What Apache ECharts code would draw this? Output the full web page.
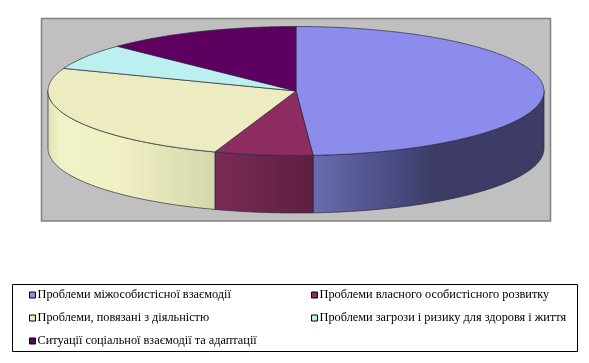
<!DOCTYPE html>
<html><head><meta charset="utf-8">
<style>html,body{margin:0;padding:0;background:#fff}#c{width:589px;height:363px}</style>
<script src="https://cdn.jsdelivr.net/npm/echarts@6/dist/echarts.min.js"></script>
</head><body><div id="c"></div>
<script>
const categories = [
  'Проблеми міжособистісної взаємодії',
  'Проблеми власного особистісного розвитку',
  'Проблеми, повязані з діяльністю',
  'Проблеми загрози і ризику для здоровя і життя',
  'Ситуації соціальної взаємодії та адаптації'
];
const values = [48.9, 6.4, 25.4, 6.5, 12.8];
const topColors = ['#8c8cec', '#8c2c60', '#ececc0', '#bcefef', '#5e0060'];
const sideStops = [
  [[0, '#6a6cb0'], [0.5, '#45467a'], [0.65, '#3c3c66'], [1, '#3c3c66']],
  [[0, '#7a2a56'], [1, '#5e2040']],
  [[0, '#e0e0b4'], [0.08, '#f2f2c8'], [0.45, '#f0f0c4'], [1, '#d6d6ac']],
  [[0, '#bcefef'], [1, '#bcefef']],
  [[0, '#5e0060'], [1, '#5e0060']]
];
const sideSpans = [[312, 500], [215, 312], [47, 215], [0, 1], [0, 1]];

const cx = 296, cy = 91, rx = 248, ry = 64.5, depth = 57.5;
const total = values.reduce((a, b) => a + b, 0);
function pt(deg, dy) {
  const t = deg * Math.PI / 180;
  return [cx + rx * Math.sin(t), cy - ry * Math.cos(t) + dy];
}
function arc(a, b, dy) {
  const out = [];
  const n = Math.max(2, Math.ceil((b - a) * 2));
  for (let i = 0; i <= n; i++) out.push(pt(a + (b - a) * i / n, dy));
  return out;
}
function sliceRender(idx) {
  let start = 0;
  for (let i = 0; i < idx; i++) start += values[i] / total * 360;
  const end = start + values[idx] / total * 360;
  return function () {
    const children = [];
    const a = Math.max(start, 90), b = Math.min(end, 270);
    if (b > a) {
      const pts = arc(a, b, 0).concat(arc(a, b, depth).reverse());
      children.push({
        type: 'polygon',
        shape: { points: pts },
        style: {
          fill: {
            type: 'linear', global: true,
            x: sideSpans[idx][0], y: 0, x2: sideSpans[idx][1], y2: 0,
            colorStops: sideStops[idx].map(s => ({ offset: s[0], color: s[1] }))
          },
          stroke: '#2a2a3a', lineWidth: 0.7
        }
      });
    }
    children.push({
      type: 'polygon',
      shape: { points: [[cx, cy]].concat(arc(start, end, 0)) },
      style: { fill: topColors[idx], stroke: '#2a2a3a', lineWidth: 0.7 }
    });
    return { type: 'group', children };
  };
}
const textStyle = { fontFamily: 'Liberation Serif', fontSize: 12.3, lineHeight: 13, color: '#000' };
const legendBase = {
  orient: 'vertical', icon: 'rect', itemWidth: 6, itemHeight: 6, itemGap: 10,
  padding: 0, selectedMode: false, textStyle: { ...textStyle, padding: [0, 0, 0, -3] },
  itemStyle: { borderColor: '#000', borderWidth: 1 }
};
const chart = echarts.init(document.getElementById('c'), null, { renderer: 'canvas' });
chart.setOption({
  animation: false,
  backgroundColor: '#fff',
  grid: { left: 41.5, top: 18.5, width: 509, height: 202.5, show: true, backgroundColor: '#c0c0c0', borderColor: '#808080', borderWidth: 1.5 },
  xAxis: { type: 'value', show: false },
  yAxis: { type: 'value', show: false },
  legend: [
    { ...legendBase, left: 29, top: 288.5, data: [categories[0], categories[2], categories[4]] },
    { ...legendBase, left: 311, top: 288.5, data: [categories[1], categories[3]] }
  ],
  graphic: [{
    type: 'rect', z: 0, silent: true,
    shape: { x: 12.5, y: 284.5, width: 565, height: 67 },
    style: { fill: 'none', stroke: '#000', lineWidth: 1 }
  }],
  series: categories.map((name, i) => ({
    type: 'custom', name, coordinateSystem: 'none',
    itemStyle: { color: topColors[i] },
    renderItem: sliceRender(i),
    data: [values[i]],
    silent: true
  }))
});
</script></body></html>
